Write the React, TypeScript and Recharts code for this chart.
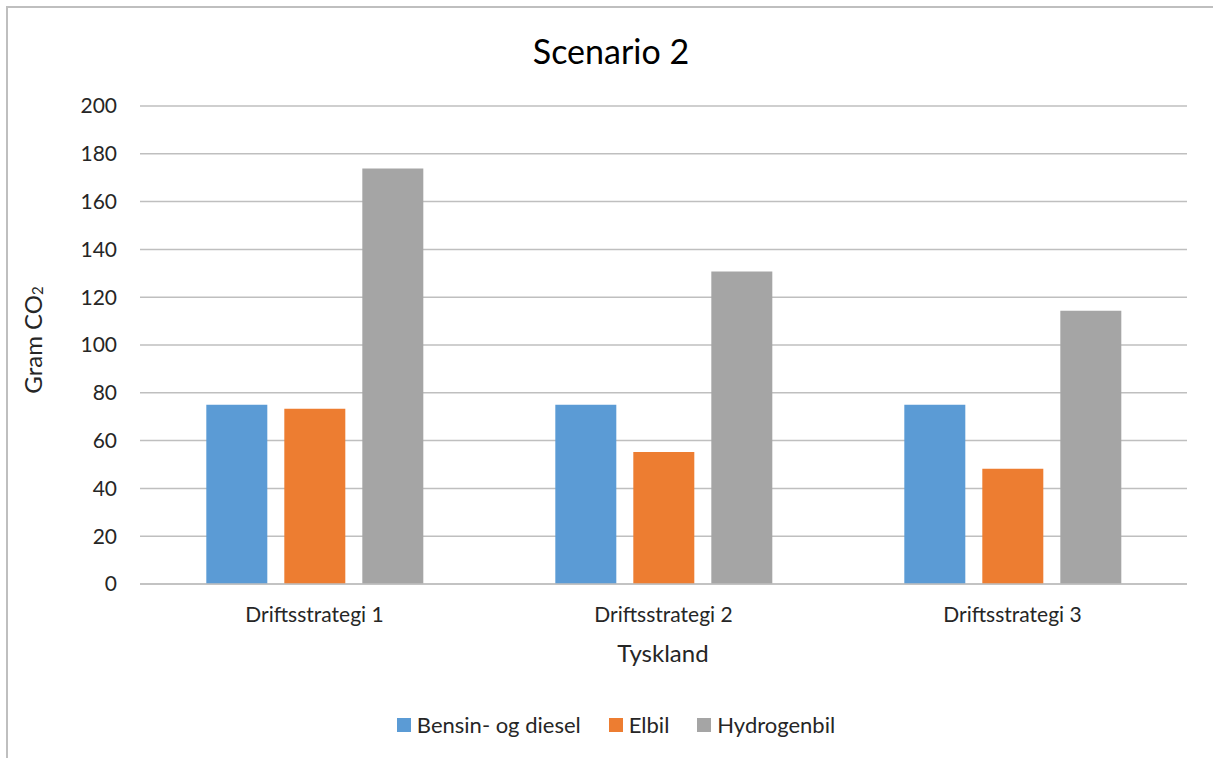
import { BarChart, Bar, XAxis, YAxis, CartesianGrid } from 'recharts';

// Scenario 2 – Tyskland, gram CO2 per strategy
const categories = ['Driftsstrategi 1', 'Driftsstrategi 2', 'Driftsstrategi 3'];
const bensinDiesel = [75, 75, 75];
const elbil = [73.3, 55.2, 48.2];
const hydrogenbil = [173.8, 130.8, 114.3];
const yTicks = [0, 20, 40, 60, 80, 100, 120, 140, 160, 180, 200];

const series = [
  { key: 'bensin', name: 'Bensin- og diesel', color: '#5B9BD5' },
  { key: 'elbil', name: 'Elbil', color: '#ED7D31' },
  { key: 'hydrogen', name: 'Hydrogenbil', color: '#A5A5A5' },
];

const data = categories.map((name, i) => ({
  name,
  bensin: bensinDiesel[i],
  elbil: elbil[i],
  hydrogen: hydrogenbil[i],
}));

const font = 'Lato, "Open Sans", sans-serif';
const textColor = '#262626';
const gridColor = '#BFBFBF';

const YTitle = () => (
  <text
    x={32}
    y={340}
    transform="rotate(-90 32 340)"
    textAnchor="middle"
    dominantBaseline="central"
    fill={textColor}
    fontSize={24}
    fontFamily={font}
  >
    Gram CO<tspan fontSize={15} dy={5}>2</tspan>
  </text>
);

const XTitle = () => (
  <text
    x={663}
    y={662}
    textAnchor="middle"
    fill={textColor}
    fontSize={24}
    fontFamily={font}
  >
    Tyskland
  </text>
);

export default function App() {
  return (
    <div
      style={{
        position: 'absolute',
        left: 0,
        top: 0,
        width: 1213,
        height: 758,
        overflow: 'hidden',
        background: '#fff',
        fontFamily: font,
      }}
    >
      {/* chart frame, cropped on the right and bottom */}
      <div
        style={{
          position: 'absolute',
          left: 6,
          top: 6,
          width: 1300,
          height: 900,
          borderLeft: `2px solid ${gridColor}`,
          borderTop: `2px solid ${gridColor}`,
        }}
      />
      <div
        style={{
          position: 'absolute',
          left: 0,
          top: 34,
          width: 1222,
          textAlign: 'center',
          fontSize: 34,
          lineHeight: '34px',
          color: '#000',
        }}
      >
        Scenario 2
      </div>
      <div style={{ position: 'absolute', left: 0, top: 0 }}>
        <BarChart
          width={1213}
          height={758}
          data={data}
          margin={{ top: 106, right: 26, left: 0, bottom: 0 }}
          barCategoryGap="19%"
          barGap={17}
        >
          <CartesianGrid
            vertical={false}
            stroke={gridColor}
            strokeWidth={1.5}
          />
          <XAxis
            dataKey="name"
            height={174}
            tickLine={false}
            tickSize={0}
            tickMargin={23}
            axisLine={{ stroke: gridColor, strokeWidth: 1.5 }}
            tick={{ fill: textColor, fontSize: 21, fontFamily: font }}
            label={<XTitle />}
          />
          <YAxis
            width={140}
            domain={[0, 200]}
            ticks={yTicks}
            interval={0}
            tickLine={false}
            tickSize={0}
            tickMargin={23}
            axisLine={false}
            tick={{ fill: textColor, fontSize: 21, fontFamily: font }}
            label={<YTitle />}
          />
          {series.map((s) => (
            <Bar
              key={s.key}
              dataKey={s.key}
              name={s.name}
              fill={s.color}
              isAnimationActive={false}
            />
          ))}
        </BarChart>
      </div>
      <div
        style={{
          position: 'absolute',
          left: 0,
          top: 711,
          width: 1232,
          display: 'flex',
          justifyContent: 'center',
          alignItems: 'center',
          gap: 28,
          fontSize: 22,
          color: textColor,
        }}
      >
        {series.map((s) => (
          <div key={s.key} style={{ display: 'flex', alignItems: 'center', gap: 6 }}>
            <span style={{ width: 14, height: 14, background: s.color, display: 'inline-block' }} />
            <span>{s.name}</span>
          </div>
        ))}
      </div>
    </div>
  );
}
